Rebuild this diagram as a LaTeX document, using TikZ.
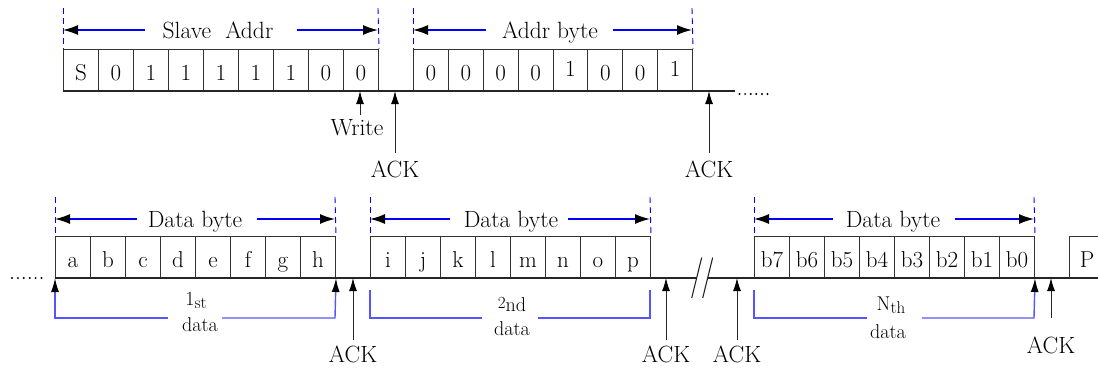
\documentclass[tikz,border=0pt]{standalone}
\usepackage{fontspec}
\usetikzlibrary{arrows.meta}
\definecolor{lineblue}{RGB}{0,0,255}
\definecolor{brblue}{RGB}{85,85,255}
\newcommand{\lowsub}[1]{\raisebox{-3pt}{\fontsize{17}{17}\selectfont #1}}
\newcommand{\highsup}[1]{\raisebox{3pt}{\fontsize{17}{17}\selectfont #1}}
\begin{document}
\begin{tikzpicture}[x=1pt,y=-1pt,
  cell/.style={draw=black!80, line width=1pt, minimum width=35pt, minimum height=41pt, inner sep=0pt, anchor=south west, text height=22pt, text depth=2pt, font=\fontsize{23}{24}\selectfont},
  lbl/.style={inner sep=0pt, font=\fontsize{23.5}{24}\selectfont, anchor=base},
  sml/.style={inner sep=0pt, font=\fontsize{20}{20}\selectfont, anchor=base},
  vdash/.style={draw=lineblue, dash pattern=on 6pt off 4pt, line width=0.9pt},
  span/.style={draw=lineblue, line width=1.4pt, -{Latex[length=15pt,width=10pt,color=black]}},
  bline/.style={draw=black!85, line width=1.1pt},
  uparr/.style={draw=black!85, line width=1pt, -{Latex[length=13pt,width=8pt,color=black]}},
  brk/.style={draw=brblue, line width=1.4pt},
  brarr/.style={draw=brblue, line width=1.4pt, -{Latex[length=14pt,width=8pt,color=black]}},
  dotf/.style={fill=black, draw=none},
]
\useasboundingbox (0,0) rectangle (1098,367);

% ---------------- top row ----------------
\foreach \t [count=\i from 0] in {S,0,1,1,1,1,1,0,0}
  \node[cell] (s\i) at (63+35*\i,91) {\t};
\foreach \t [count=\i from 0] in {0,0,0,0,\raisebox{4pt}{1},0,0,\raisebox{4pt}{1}}
  \node[cell, minimum width=34.875pt] (r\i) at (413+34.875*\i,91) {\t};

\coordinate (topend) at (735,91);
\draw[bline] (s0.south west) -- (topend);
\foreach \k in {0,...,5}
  \fill[dotf] (739.5+5.6*\k,94) circle (1.1pt);

% dashed markers and spans
\coordinate (t1a) at (63,8);   \coordinate (t1b) at (378,8);
\coordinate (t2a) at (413,8);  \coordinate (t2b) at (692,8);
\draw[vdash] (t1a) -- (s0.north west);
\draw[vdash] (t1b) -- (s8.north east);
\draw[vdash] (t2a) -- (r0.north west);
\draw[vdash] (t2b) -- (r7.north east);

\node[lbl] (slave) at (218,38) {Slave\ \ Addr};
\coordinate (sl1) at (145,30); \coordinate (sl2) at (297,30);
\coordinate (sl1e) at (63,30); \coordinate (sl2e) at (378,30);
\draw[span] (sl1) -- (sl1e);
\draw[span] (sl2) -- (sl2e);

\node[lbl] (addr) at (550,38) {Addr byte};
\coordinate (ad1) at (486,30); \coordinate (ad2) at (613,30);
\coordinate (ad1e) at (413,30); \coordinate (ad2e) at (692,30);
\draw[span] (ad1) -- (ad1e);
\draw[span] (ad2) -- (ad2e);

% write / ack
\node[lbl] (write) at (357,135) {Write};
\coordinate (wr1) at (360,115); \coordinate (wr2) at (360,91);
\draw[uparr] (wr1) -- (wr2);

\node[lbl] (ackt1) at (395,177) {ACK};
\coordinate (at1a) at (395,153); \coordinate (at1b) at (395,91);
\draw[uparr] (at1a) -- (at1b);

\node[lbl] (ackt2) at (709,177) {ACK};
\coordinate (at2a) at (709,153); \coordinate (at2b) at (709,91);
\draw[uparr] (at2a) -- (at2b);

% ---------------- bottom row ----------------
\foreach \t [count=\i from 0] in {a,b,c,d,e,f,g,h}
  \node[cell] (a\i) at (55+35*\i,278) {\t};
\foreach \t [count=\i from 0] in {i,j,k,l,m,n,o,p}
  \node[cell] (b\i) at (370+35*\i,278) {\t};
\foreach \t [count=\i from 0] in {b7,b6,b5,b4,b3,b2,b1,b0}
  \node[cell] (c\i) at (754+35*\i,278) {\t};
\node[cell] (pcell) at (1069,278) {P};

\coordinate (br1) at (697,278); \coordinate (br2) at (707,278);
\coordinate (bend) at (1098,278);
\draw[bline] (a0.south west) -- (br1);
\draw[bline] (br2) -- (bend);
\coordinate (sl1a) at (691.7,298); \coordinate (sl1b) at (701.7,257.5);
\coordinate (sl2a) at (702.7,298); \coordinate (sl2b) at (712.7,257.5);
\draw[bline] (sl1a) -- (sl1b);
\draw[bline] (sl2a) -- (sl2b);

\foreach \k in {0,...,5}
  \fill[dotf] (12+5.9*\k,278) circle (1.1pt);

% dashed markers
\foreach \n/\x in {d1/55,d2/335,d3/370,d4/650,d5/754,d6/1034}
  \coordinate (\n) at (\x,197);
\draw[vdash] (d1) -- (a0.north west);
\draw[vdash] (d2) -- (a7.north east);
\draw[vdash] (d3) -- (b0.north west);
\draw[vdash] (d4) -- (b7.north east);
\draw[vdash] (d5) -- (c0.north west);
\draw[vdash] (d6) -- (c7.north east);

% spans
\node[lbl] (db1) at (195,227) {Data byte};
\coordinate (e1a) at (137,219); \coordinate (e1b) at (257,219);
\coordinate (e1c) at (55,219);  \coordinate (e1d) at (335,219);
\draw[span] (e1a) -- (e1c);
\draw[span] (e1b) -- (e1d);

\node[lbl] (db2) at (511,227) {Data byte};
\coordinate (e2a) at (450,219); \coordinate (e2b) at (568,219);
\coordinate (e2c) at (370,219); \coordinate (e2d) at (650,219);
\draw[span] (e2a) -- (e2c);
\draw[span] (e2b) -- (e2d);

\node[lbl] (db3) at (893,227) {Data byte};
\coordinate (e3a) at (833,219); \coordinate (e3b) at (955,219);
\coordinate (e3c) at (754,219); \coordinate (e3d) at (1034,219);
\draw[span] (e3a) -- (e3c);
\draw[span] (e3b) -- (e3d);

% brackets
\node[sml] (n1a) at (196,305) {1\lowsub{st}};
\node[sml] (n1b) at (200,331) {data};
\coordinate (k1a) at (168,318); \coordinate (k1b) at (55,318);
\coordinate (k1c) at (222,318); \coordinate (k1d) at (335,318);
\draw[brarr] (k1a) -- (k1b) -- (a0.south west);
\draw[brarr] (k1c) -- (k1d) -- (a7.south east);

\node[sml] (n2a) at (512,311) {\highsup{2}nd};
\node[sml] (n2b) at (512,335) {data};
\coordinate (k2a) at (482,318); \coordinate (k2b) at (370,318); \coordinate (k2c) at (370,290);
\coordinate (k2d) at (538,318); \coordinate (k2e) at (650,318); \coordinate (k2f) at (650,290);
\draw[brk] (k2a) -- (k2b) -- (k2c);
\draw[brk] (k2d) -- (k2e) -- (k2f);

\node[sml] (n3a) at (891,310) {N\lowsub{th}};
\node[sml] (n3b) at (888,338) {data};
\coordinate (k3a) at (867,318); \coordinate (k3b) at (754,318); \coordinate (k3c) at (754,290);
\coordinate (k3d) at (922,318); \coordinate (k3e) at (1034,318);
\draw[brk] (k3a) -- (k3b) -- (k3c);
\draw[brarr] (k3d) -- (k3e) -- (c7.south east);

% ACK arrows bottom
\node[lbl] (ackb1) at (353,362) {ACK};
\coordinate (ab1a) at (353,340); \coordinate (ab1b) at (353,278);
\draw[uparr] (ab1a) -- (ab1b);
\node[lbl] (ackb2) at (666,362) {ACK};
\coordinate (ab2a) at (666,340); \coordinate (ab2b) at (666,278);
\draw[uparr] (ab2a) -- (ab2b);
\node[lbl] (ackb3) at (737,362) {ACK};
\coordinate (ab3a) at (737,340); \coordinate (ab3b) at (737,278);
\draw[uparr] (ab3a) -- (ab3b);
\node[lbl] (ackb4) at (1051,353) {ACK};
\coordinate (ab4a) at (1051,318); \coordinate (ab4b) at (1051,278);
\draw[uparr] (ab4a) -- (ab4b);
\end{tikzpicture}
\end{document}
